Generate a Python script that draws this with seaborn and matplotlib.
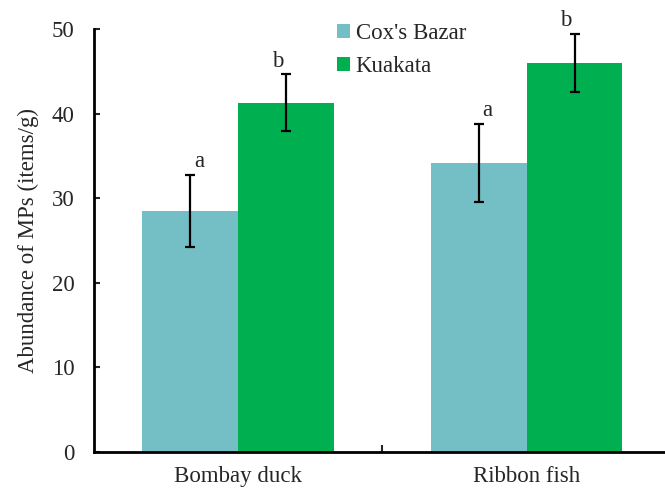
import matplotlib
matplotlib.use("Agg")
import matplotlib.pyplot as plt
import seaborn as sns
import pandas as pd
import numpy as np

species = ["Bombay duck", "Ribbon fish"]
sites = ["Cox's Bazar", "Kuakata"]
cox_mean = [28.5, 34.2]
cox_err = [4.25, 4.6]
kua_mean = [41.3, 46.0]
kua_err = [3.35, 3.45]
cox_letters = ["a", "a"]
kua_letters = ["b", "b"]
colors = ["#74BFC5", "#00B050"]

df = pd.DataFrame({
    "species": species * 2,
    "site": [sites[0]] * 2 + [sites[1]] * 2,
    "value": cox_mean + kua_mean,
})
errs = {sites[0]: cox_err, sites[1]: kua_err}
letters = {sites[0]: cox_letters, sites[1]: kua_letters}
means = {sites[0]: cox_mean, sites[1]: kua_mean}

sns.set_style("white")
plt.rcParams['font.family'] = ['Liberation Serif', 'DejaVu Serif']
FS = 16.5

fig = plt.figure(figsize=(6.65, 4.9), dpi=100)
ax = fig.add_axes([94/665, 38/490, 1 - 94/665, (452-29)/490])

sns.barplot(data=df, x="species", y="value", hue="site", order=species,
            hue_order=sites, palette=colors, width=0.665, gap=0,
            errorbar=None, ax=ax, saturation=1, edgecolor="none", linewidth=0)

# error bars and letters
offs = {sites[0]: 0.03, sites[1]: -0.03}
for container, site in zip(ax.containers, sites):
    for i, bar in enumerate(container):
        xc = bar.get_x() + bar.get_width() / 2
        m = means[site][i]
        e = errs[site][i]
        ax.errorbar(xc, m, yerr=e, fmt="none", ecolor="black",
                    elinewidth=1.6, capsize=3.8, capthick=1.6, zorder=5)
        ax.text(xc + offs[site], m + e + 0.3, letters[site][i], ha="center",
                va="bottom", fontsize=FS, clip_on=False)

ax.set_ylim(0, 50)
ax.set_xlim(-0.5, 1.48)
ax.set_yticks([0, 10, 20, 30, 40, 50])
ax.tick_params(axis="y", direction="in", length=4, width=1.5, labelsize=FS,
               left=True, pad=14)
ax.set_xticks([0, 1])
ax.set_xticklabels(species, fontsize=FS)
ax.tick_params(axis="x", which="major", length=0, pad=10)
ax.set_xticks([0.5], minor=True)
ax.tick_params(axis="x", which="minor", direction="in", length=5, width=1.5,
               bottom=True)
ax.set_xlabel("")
ax.set_ylabel("Abundance of MPs (items/g)", fontsize=FS, labelpad=9)

for s in ["top", "right"]:
    ax.spines[s].set_visible(False)
for s in ["left", "bottom"]:
    ax.spines[s].set_linewidth(2)
    ax.spines[s].set_color("black")

leg = ax.legend(loc="upper left", bbox_to_anchor=(0.41, 1.035), frameon=False,
                fontsize=FS, handlelength=0.55, handleheight=0.55,
                handletextpad=0.25, labelspacing=0.5, borderaxespad=0)

fig.savefig("out.png", dpi=100)
